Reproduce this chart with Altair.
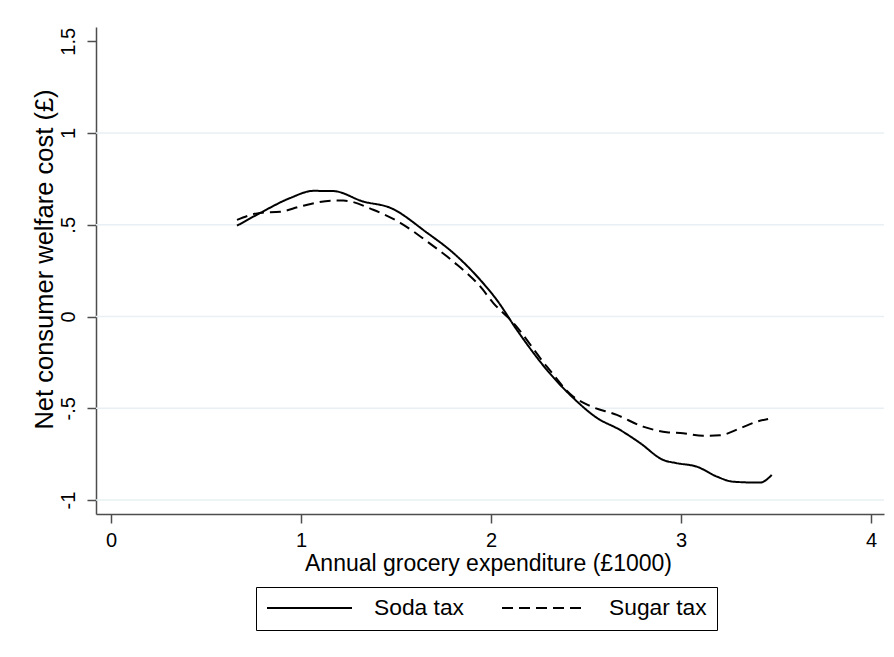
import altair as alt
import pandas as pd

# ---- data ----
series_names = ["Soda tax", "Sugar tax"]

soda_x = [0.663, 0.786, 0.943, 1.064, 1.169, 1.327, 1.469, 1.664, 1.801, 1.943, 2.030,
          2.136, 2.294, 2.432, 2.557, 2.679, 2.784, 2.905, 2.977, 3.083, 3.188, 3.274,
          3.416, 3.477]
soda_y = [0.495, 0.565, 0.646, 0.685, 0.684, 0.627, 0.593, 0.456, 0.347, 0.200, 0.091,
          -0.073, -0.291, -0.443, -0.552, -0.618, -0.689, -0.781, -0.799, -0.818, -0.872,
          -0.900, -0.905, -0.863]

sugar_x = [0.663, 0.785, 0.891, 0.996, 1.169, 1.222, 1.380, 1.522, 1.664, 1.801, 1.943,
           2.011, 2.117, 2.294, 2.432, 2.521, 2.662, 2.800, 2.925, 3.011, 3.116, 3.205,
           3.310, 3.398, 3.458]
sugar_y = [0.527, 0.565, 0.571, 0.600, 0.632, 0.632, 0.582, 0.511, 0.409, 0.300, 0.164,
           0.075, -0.034, -0.273, -0.436, -0.487, -0.536, -0.600, -0.630, -0.636, -0.650,
           -0.647, -0.609, -0.573, -0.558]

x_ticks = [0, 1, 2, 3, 4]
y_ticks = [-1, -0.5, 0, 0.5, 1, 1.5]
y_tick_labels = ["-1", "-.5", "0", ".5", "1", "1.5"]
grid_vals = [-1, -0.5, 0, 0.5, 1]

x_domain = [-0.079, 4.068]
y_domain = [-1.076, 1.578]

x_title = "Annual grocery expenditure (£1000)"
y_title = "Net consumer welfare cost (£)"

# ---- build tables ----
df = pd.concat([
    pd.DataFrame({"x": soda_x, "y": soda_y, "series": series_names[0], "o": range(len(soda_x))}),
    pd.DataFrame({"x": sugar_x, "y": sugar_y, "series": series_names[1], "o": range(len(sugar_x))}),
])
grid_df = pd.DataFrame({"y": grid_vals})

FONT = "Liberation Sans"
W, H = 788, 487
AX = "#4d4d4d"

label_expr = " : ".join(
    f"abs(datum.value - ({v})) < 1e-6 ? '{t}'" for v, t in zip(y_ticks, y_tick_labels)
) + " : ''"

xscale = alt.Scale(domain=x_domain, nice=False, zero=False)
yscale = alt.Scale(domain=y_domain, nice=False, zero=False)

x_axis = alt.Axis(
    values=x_ticks, format="d", title=x_title, grid=False,
    domainColor=AX, domainWidth=1.5, tickColor=AX, tickWidth=1.5, tickSize=9,
    labelFont=FONT, labelFontSize=20, labelColor="black", labelPadding=7,
    labelFlush=False, labelOverlap=False,
    titleFont=FONT, titleFontSize=23, titleFontWeight="normal", titleColor="black",
    titleBaseline="alphabetic", titleY=56, titleX=W / 2 - 2,
)
y_axis = alt.Axis(
    values=y_ticks, labelExpr=label_expr, title=y_title, grid=False,
    domainColor=AX, domainWidth=1.5, tickColor=AX, tickWidth=1.5, tickSize=9,
    labelFont=FONT, labelFontSize=20, labelColor="black", labelPadding=13,
    labelAngle=270, labelAlign="center", labelBaseline="alphabetic",
    labelFlush=False, labelOverlap=False,
    titleFont=FONT, titleFontSize=25.5, titleFontWeight="normal", titleColor="black",
    titleAngle=270, titleAlign="center", titleBaseline="alphabetic",
    titleX=-44, titleY=232,
)

grid = alt.Chart(grid_df).mark_rule(color="#e9f0f3", strokeWidth=1.5).encode(
    y=alt.Y("y:Q", scale=yscale, axis=y_axis),
    x=alt.value(0), x2=alt.value(W),
)

lines = alt.Chart(df).mark_line(color="black", strokeWidth=2, interpolate="monotone").encode(
    x=alt.X("x:Q", scale=xscale, axis=x_axis),
    y=alt.Y("y:Q", scale=yscale, axis=y_axis),
    order="o:Q",
    strokeDash=alt.StrokeDash(
        "series:N",
        scale=alt.Scale(domain=series_names, range=[[1, 0], [11, 6]]),
        legend=alt.Legend(
            title=None, orient="none", legendX=160, legendY=560, direction="horizontal",
            symbolType="stroke", symbolSize=7225, symbolStrokeWidth=2,
            symbolStrokeColor="black", clipHeight=22,
            labelFont=FONT, labelFontSize=22.8, labelColor="black",
            labelOffset=21, columnPadding=37, padding=10,
            strokeColor="black", fillColor="white",
        ),
    ),
)

border = alt.Chart(pd.DataFrame({"a": [0]})).mark_rule(color="#ececec", strokeWidth=1).encode(
    x=alt.value(-88), x2=alt.value(W + 2), y=alt.value(-24),
)

chart = (
    alt.layer(border, grid, lines)
    .properties(
        width=W, height=H,
        padding={"left": 88, "top": 19, "right": 2, "bottom": 135},
        autosize=alt.AutoSizeParams(type="none"),
        background="white",
    )
    .configure_view(stroke=None)
)

chart.save("out.html", embed_options={"renderer": "svg", "actions": False})
